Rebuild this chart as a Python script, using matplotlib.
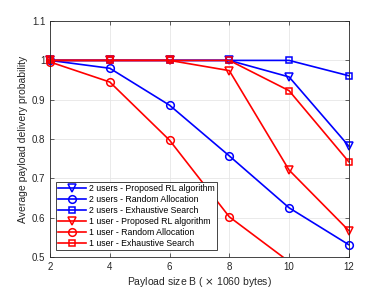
import matplotlib
matplotlib.use("Agg")
import matplotlib.pyplot as plt
from matplotlib.patches import Rectangle

# payload sizes (x 1060 bytes)
payload = [2, 4, 6, 8, 10, 12]

two_rl = [1.0, 1.0, 1.0, 1.0, 0.958, 0.782]
two_random = [1.0, 0.98, 0.886, 0.757, 0.625, 0.531]
two_es = [1.0, 1.0, 1.0, 1.0, 1.0, 0.961]
one_rl = [1.0, 1.0, 1.0, 0.974, 0.721, 0.567]
one_random = [0.996, 0.945, 0.797, 0.602, 0.488, 0.38]
one_es = [1.0, 1.0, 1.0, 1.0, 0.923, 0.742]

series = [
    (two_rl, "blue", "v", "2 users - Proposed RL algorithm"),
    (two_random, "blue", "o", "2 users - Random Allocation"),
    (two_es, "blue", "s", "2 users - Exhaustive Search"),
    (one_rl, "red", "v", "1 user - Proposed RL algorithm"),
    (one_random, "red", "o", "1 user - Random Allocation"),
    (one_es, "red", "s", "1 user - Exhaustive Search"),
]

plt.rcParams["font.family"] = ["Liberation Sans", "DejaVu Sans"]

fig = plt.figure(figsize=(3.85, 2.89), dpi=100)
ax = fig.add_axes([0.130, 0.111, 0.776, 0.816])

ax.set_xlim(2, 12)
ax.set_ylim(0.5, 1.1)

# clip only below the axes bottom so edge markers stay whole
clip = Rectangle((1, 0.5), 12, 1.0, transform=ax.transData, visible=False)
ax.add_patch(clip)

for vals, col, mk, lab in series:
    ms = {"v": 6, "o": 5.5, "s": 4.5}[mk]
    ln, = ax.plot(payload, vals, color=col, marker=mk, markersize=ms,
                  markerfacecolor="none", markeredgewidth=1.1, linewidth=1.2,
                  label=lab)
    ln.set_clip_path(clip)

ax.set_xlim(2, 12)
ax.set_ylim(0.5, 1.1)
ax.set_xticks(payload)
ax.set_yticks([0.5, 0.6, 0.7, 0.8, 0.9, 1.0, 1.1])
ax.set_yticklabels(["0.5", "0.6", "0.7", "0.8", "0.9", "1", "1.1"])
ax.grid(True, color="#e6e6e6", linewidth=0.6)
ax.set_axisbelow(True)
ax.tick_params(direction="in", labelsize=7, colors="#262626", length=3,
               width=0.5, top=True, right=True)
for sp in ax.spines.values():
    sp.set_color("#262626")
    sp.set_linewidth(0.6)

ax.set_xlabel(r"Payload size B ( $\times$ 1060 bytes)", fontsize=7.5, color="#262626", labelpad=2)
ax.set_ylabel("Average payload delivery probability", fontsize=7.5, color="#262626", labelpad=3)

leg = ax.legend(loc="lower left", bbox_to_anchor=(0.02, 0.03), fontsize=6.3,
                frameon=True, fancybox=False, framealpha=1, edgecolor="#262626",
                handlelength=3.2, handletextpad=0.3, borderpad=0.25,
                labelspacing=0.22, borderaxespad=0)
leg.get_frame().set_linewidth(0.6)

fig.savefig("out.png", dpi=100)
